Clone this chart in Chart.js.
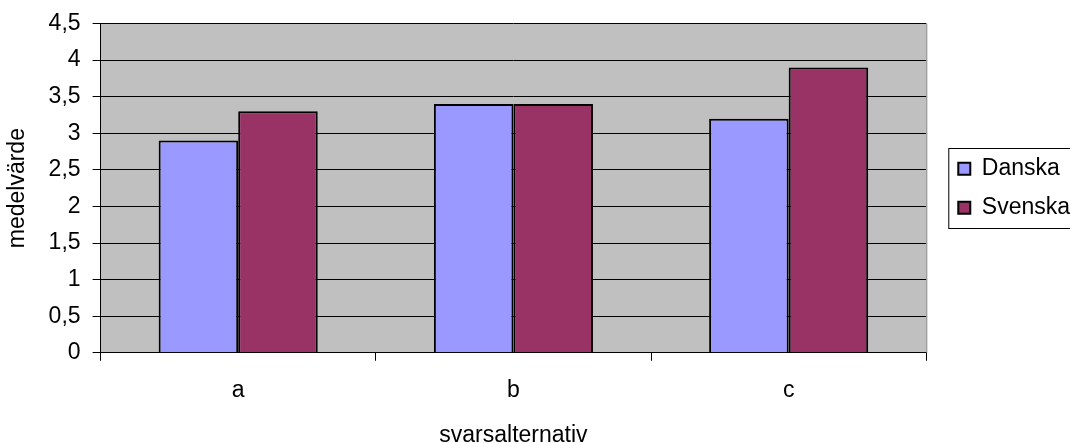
<!DOCTYPE html>
<html>
<head>
<meta charset="utf-8">
<script src="https://cdn.jsdelivr.net/npm/chart.js@4"></script>
<style>
body { margin: 0; overflow: hidden; background: #fff; }
#wrap { width: 1100px; height: 443px; }
</style>
</head>
<body>
<div id="wrap"><canvas id="chart"></canvas></div>
<script>
var categories = ['a', 'b', 'c'];
var danska = [2.9, 3.4, 3.2];
var svenska = [3.3, 3.4, 3.9];
var yMin = 0;
var yMax = 4.5;
var yStep = 0.5;

Chart.defaults.font.family = "'Liberation Sans', Arial, sans-serif";
Chart.defaults.font.size = 23;
Chart.defaults.color = '#000';

// grey plot area, right edge and a frame round the legend
const excelLook = {
    id: 'excelLook',
    afterLayout(chart) {
        // legend sits a bit away from the plot, like in Excel
        const l = chart.legend;
        l.left += 16;
        l.right += 16;
    },
    beforeDraw(chart) {
        const a = chart.chartArea;
        const ctx = chart.ctx;
        ctx.save();
        ctx.fillStyle = '#c0c0c0';
        ctx.fillRect(a.left, a.top, a.right - a.left, a.bottom - a.top);
        ctx.restore();
    },
    afterDraw(chart) {
        const a = chart.chartArea;
        const ctx = chart.ctx;
        ctx.save();
        ctx.strokeStyle = '#808080';
        ctx.lineWidth = 1;
        ctx.beginPath();
        ctx.moveTo(a.right + 0.5, a.top);
        ctx.lineTo(a.right + 0.5, a.bottom);
        ctx.stroke();
        const l = chart.legend;
        const n = chart.data.datasets.length;
        const itemH = 23 + 16;
        const mid = (a.top + a.bottom) / 2;
        const top = Math.round(mid - n * itemH / 2) - 1;
        ctx.strokeStyle = '#000';
        ctx.strokeRect(l.left + 6.5, top + 0.5, 300, n * itemH + 2);
        ctx.restore();
    }
};

const data = {
    labels: categories,
    datasets: [
        {
            label: 'Danska',
            backgroundColor: '#9999ff',
            borderColor: '#000',
            borderWidth: 2,
            data: danska,
        },
        {
            label: 'Svenska',
            backgroundColor: '#993366',
            borderColor: '#000',
            borderWidth: 2,
            data: svenska,
        }
    ],
};

const config = {
    type: 'bar',
    data: data,
    options: {
        responsive: true,
        maintainAspectRatio: false,
        animation: false,
        layout: { padding: { top: 2, left: 4, right: 36, bottom: 0 } },
        datasets: {
            bar: { categoryPercentage: 0.578, barPercentage: 1.0 }
        },
        plugins: {
            tooltip: { enabled: false },
            legend: {
                position: 'right',
                fullSize: false,
                labels: {
                    boxWidth: 12,
                    boxHeight: 12,
                    padding: 16,
                    color: '#000'
                }
            }
        },
        scales: {
            x: {
                grid: {
                    display: true,
                    drawOnChartArea: false,
                    drawTicks: true,
                    tickLength: 8,
                    color: '#000',
                    offset: true
                },
                border: { color: '#000', width: 1 },
                ticks: { padding: 16, color: '#000' },
                title: {
                    display: true,
                    text: 'svarsalternativ',
                    color: '#000',
                    padding: { top: 1, bottom: -6 }
                }
            },
            y: {
                min: yMin,
                max: yMax,
                grid: {
                    color: '#000',
                    tickLength: 8,
                    drawTicks: true
                },
                border: { color: '#000', width: 1 },
                ticks: {
                    stepSize: yStep,
                    padding: 12,
                    color: '#000',
                    font: { lineHeight: 1 },
                    callback: function (v) { return String(v).replace('.', ','); }
                },
                title: {
                    display: true,
                    text: 'medelvärde',
                    color: '#000',
                    padding: { top: 0, bottom: 5 }
                }
            }
        }
    },
    plugins: [excelLook]
};

const chart = new Chart(document.getElementById('chart'), config);
</script>
</body>
</html>
